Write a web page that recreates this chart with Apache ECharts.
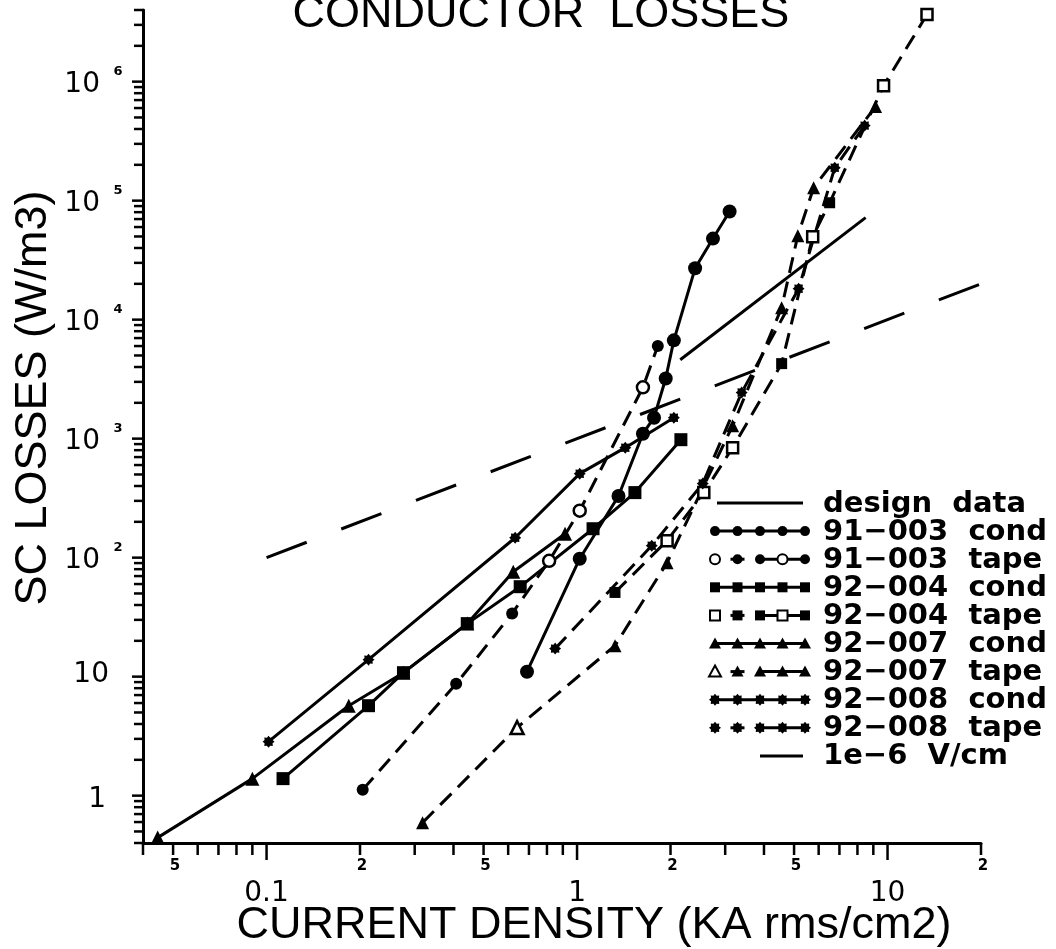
<!DOCTYPE html>
<html>
<head>
<meta charset="utf-8">
<script src="https://cdn.jsdelivr.net/npm/echarts@6/dist/echarts.min.js"></script>
<style>
  html, body { margin: 0; padding: 0; background: #fff; }
  #chart { width: 1056px; height: 949px; }
</style>
</head>
<body>
<div id="chart"></div>
<script>
// Axis ranges (log-log)
const X_MIN = 0.04, X_MAX = 20;
const Y_MIN = 0.4, Y_MAX = 4e6;

// Current density (kA rms/cm2) and loss density (W/m3) for each sample
const designX = [2.15, 8.5];
const designY = [4600, 72000];
const critX = [0.1, 21];
const critY = [100, 21000];

const c91003X = [0.69, 1.02, 1.36, 1.63, 1.77, 1.93, 2.05, 2.40, 2.74, 3.10];
const c91003Y = [11, 98, 330, 1100, 1500, 3200, 6700, 27000, 48000, 81000];
const t91003X = [0.204, 0.408, 0.618, 0.813, 1.02, 1.63, 1.82];
const t91003Y = [1.12, 8.7, 34, 94, 248, 2700, 6000];

const c92004X = [0.113, 0.213, 0.276, 0.443, 0.656, 1.126, 1.536, 2.16];
const c92004Y = [1.39, 5.7, 10.8, 27.9, 57, 175, 352, 980];
const t92004X = [1.325, 1.95, 2.56, 3.17, 4.56, 5.74, 6.51, 9.71, 13.4];
const t92004Y = [51, 139, 352, 840, 4270, 49800, 96000, 925000, 3660000];

const c92007X = [0.0446, 0.090, 0.184, 0.276, 0.443, 0.623, 0.915];
const c92007Y = [0.444, 1.39, 5.7, 10.8, 27.9, 76, 159];
const t92007X = [0.318, 0.641, 1.325, 1.95, 3.17, 4.56, 5.14, 5.78, 9.15];
const t92007Y = [0.593, 3.73, 18.2, 90.8, 1285, 12600, 50800, 128500, 617000];

const c92008X = [0.1015, 0.213, 0.632, 1.02, 1.43, 2.05];
const c92008Y = [2.84, 13.9, 147, 508, 840, 1500];
const t92008X = [0.85, 1.74, 2.54, 3.39, 5.17, 6.76, 8.44];
const t92008Y = [17.2, 126, 419, 2440, 18200, 189000, 427000];

// Tick labels
const tickMantissas = [1, 2, 3, 4, 5, 6, 7, 8, 9];
const xDecadeValues = [0.1, 1, 10];
const xDecadeLabels = ['0.1', '1', '10'];
const xMinorLabelValues = [0.05, 0.2, 0.5, 2, 5, 20];
const xMinorLabels = ['5', '2', '5', '2', '5', '2'];
const yDecadeValues = [1, 10, 100, 1000, 1e4, 1e5, 1e6];
const yDecadeLabels = ['1', '10', '10', '10', '10', '10', '10'];
const yDecadeExponents = ['', '', '2', '3', '4', '5', '6'];

const legendLabels = ['design  data', '91\u2212003  cond', '91\u2212003  tape', '92\u2212004  cond',
  '92\u2212004  tape', '92\u2212007  cond', '92\u2212007  tape', '92\u2212008  cond',
  '92\u2212008  tape', '1e\u22126  V/cm'];

// ---- helpers ----
function logTicks(min, max) {
  const out = [];
  for (let e = Math.floor(Math.log10(min)); e <= Math.ceil(Math.log10(max)); e++) {
    tickMantissas.forEach(function (m) {
      const v = Number((m * Math.pow(10, e)).toPrecision(6));
      if (v >= min * (1 - 1e-9) && v <= max * (1 + 1e-9)) out.push(v);
    });
  }
  return out;
}
function isDecade(v) {
  const l = Math.log10(v);
  return Math.abs(l - Math.round(l)) < 1e-6;
}
// spiky dot used as the 92-008 marker
function starPoints(cx, cy, r) {
  const pts = [];
  for (let k = 0; k < 16; k++) {
    const a = -Math.PI / 2 + k * Math.PI / 8;
    const rr = k % 2 === 0 ? r : r * 0.72;
    pts.push([cx + rr * Math.cos(a), cy + rr * Math.sin(a)]);
  }
  return pts;
}
const starPath = 'path://' + starPoints(10, 10, 10).map(function (p, i) {
  return (i === 0 ? 'M' : 'L') + p[0].toFixed(2) + ' ' + p[1].toFixed(2);
}).join(' ') + ' Z';

const SYMBOLS = { circle: 'circle', square: 'rect', triangle: 'triangle', star: starPath };
const TAPE_DASH = [16, 9];

// Series drawing definitions (style only)
const plotSeries = [
  { name: 'design data', xs: designX, ys: designY, dash: 'solid', marker: null },
  { name: '91-003 cond', xs: c91003X, ys: c91003Y, dash: 'solid', marker: 'circle', size: 14, open: [] },
  { name: '91-003 tape', xs: t91003X, ys: t91003Y, dash: TAPE_DASH, marker: 'circle', size: 12, open: [3, 4, 5] },
  { name: '92-004 cond', xs: c92004X, ys: c92004Y, dash: 'solid', marker: 'square', size: 13, open: [] },
  { name: '92-004 tape', xs: t92004X, ys: t92004Y, dash: TAPE_DASH, marker: 'square', size: 11, open: [1, 2, 3, 5, 7, 8] },
  { name: '92-007 cond', xs: c92007X, ys: c92007Y, dash: 'solid', marker: 'triangle', size: 14, open: [] },
  { name: '92-007 tape', xs: t92007X, ys: t92007Y, dash: TAPE_DASH, marker: 'triangle', size: 13, open: [1] },
  { name: '92-008 cond', xs: c92008X, ys: c92008Y, dash: 'solid', marker: 'star', size: 12, open: [] },
  { name: '92-008 tape', xs: t92008X, ys: t92008Y, dash: TAPE_DASH, marker: 'star', size: 12, open: [] },
  { name: '1e-6 V/cm', xs: critX, ys: critY, dash: [43, 37], marker: null }
];

const series = plotSeries.map(function (s) {
  const open = s.open || [];
  return {
    name: s.name,
    type: 'line',
    clip: false,
    silent: true,
    symbol: s.marker ? SYMBOLS[s.marker] : 'none',
    symbolSize: s.size || 0,
    showSymbol: !!s.marker,
    lineStyle: { color: '#000', width: 3, type: s.dash },
    itemStyle: { color: '#000' },
    z: 3,
    data: s.xs.map(function (x, i) {
      const item = { value: [x, s.ys[i]] };
      if (open.indexOf(i) >= 0) {
        item.itemStyle = { color: '#fff', borderColor: '#000', borderWidth: 2.5 };
      }
      return item;
    })
  };
});

const NUM_FONT = '"DejaVu Sans", sans-serif';

// Axis ticks drawn through the axis scales
series.push({
  type: 'custom', silent: true, clip: false, z: 5,
  data: logTicks(X_MIN, X_MAX).map(function (v) { return [v, Y_MIN]; }),
  renderItem: function (params, api) {
    const v = api.value(0);
    const p = api.coord([v, Y_MIN]);
    const len = isDecade(v) ? 17 : 12;
    return { type: 'line', shape: { x1: p[0], y1: p[1], x2: p[0], y2: p[1] + len },
      style: { stroke: '#000', lineWidth: 2.5 } };
  }
});
series.push({
  type: 'custom', silent: true, clip: false, z: 5,
  data: logTicks(Y_MIN, Y_MAX).map(function (v) { return [X_MIN, v]; }),
  renderItem: function (params, api) {
    const v = api.value(1);
    const p = api.coord([X_MIN, v]);
    const len = isDecade(v) ? 11 : 9;
    return { type: 'line', shape: { x1: p[0] - len, y1: p[1], x2: p[0], y2: p[1] },
      style: { stroke: '#000', lineWidth: 2.5 } };
  }
});
// small intermediate labels under the x axis
series.push({
  type: 'custom', silent: true, clip: false, z: 5,
  data: xMinorLabelValues.map(function (v) { return [v, Y_MIN]; }),
  renderItem: function (params, api) {
    const p = api.coord([api.value(0), Y_MIN]);
    return { type: 'text', x: p[0] + 2, y: p[1] + 23,
      style: { text: xMinorLabels[params.dataIndex], font: 'bold 15px ' + NUM_FONT, fill: '#000',
        textAlign: 'center', textVerticalAlign: 'middle', align: 'center', verticalAlign: 'middle' } };
  }
});
// decade labels under the x axis
series.push({
  type: 'custom', silent: true, clip: false, z: 5,
  data: xDecadeValues.map(function (v) { return [v, Y_MIN]; }),
  renderItem: function (params, api) {
    const p = api.coord([api.value(0), Y_MIN]);
    return { type: 'text', x: p[0], y: p[1] + 51,
      style: { text: xDecadeLabels[params.dataIndex], font: '28px ' + NUM_FONT, fill: '#000',
        textAlign: 'center', textVerticalAlign: 'middle', align: 'center', verticalAlign: 'middle' } };
  }
});
// decade labels on the y axis (power-of-ten form)
series.push({
  type: 'custom', silent: true, clip: false, z: 5,
  data: yDecadeValues.map(function (v) { return [X_MIN, v]; }),
  renderItem: function (params, api) {
    const i = params.dataIndex;
    const p = api.coord([X_MIN, api.value(1)]);
    const exp = yDecadeExponents[i];
    const base = { font: '28px ' + NUM_FONT, fill: '#000', textAlign: 'right', textVerticalAlign: 'middle',
      align: 'right', verticalAlign: 'middle' };
    if (exp) {
      return { type: 'group', children: [
        { type: 'text', x: p[0] - 43, y: p[1] + 3, style: Object.assign({ text: yDecadeLabels[i] }, base) },
        { type: 'text', x: p[0] - 25, y: p[1] - 10, style: { text: exp, font: 'bold 13px ' + NUM_FONT, fill: '#000',
          textAlign: 'center', textVerticalAlign: 'middle', align: 'center', verticalAlign: 'middle' } }
      ] };
    }
    const dy = yDecadeLabels[i] === '1' ? 4 : -2;
    const dx = yDecadeLabels[i] === '1' ? -37 : -34;
    return { type: 'text', x: p[0] + dx, y: p[1] + dy, style: Object.assign({ text: yDecadeLabels[i] }, base) };
  }
});

// ---- legend drawn as graphics ----
const LEG = { x0: 715, x1: 805, textX: 823, y0: 503, dy: 28.1 };
function markerGraphic(kind, cx, cy, size, open) {
  const style = open ? { fill: '#fff', stroke: '#000', lineWidth: 2 } : { fill: '#000' };
  const h = size / 2;
  if (kind === 'circle') return { type: 'circle', shape: { cx: cx, cy: cy, r: h }, style: style, z: 10 };
  if (kind === 'square') return { type: 'rect', shape: { x: cx - h, y: cy - h, width: size, height: size }, style: style, z: 10 };
  if (kind === 'triangle') return { type: 'polygon', shape: { points: [[cx, cy - h - 1], [cx + h + 1, cy + h], [cx - h - 1, cy + h]] }, style: style, z: 10 };
  return { type: 'polygon', shape: { points: starPoints(cx, cy, h + 1) }, style: style, z: 10 };
}
const legendChildren = [];
plotSeries.forEach(function (s, r) {
  const y = LEG.y0 + r * LEG.dy;
  const lineStyle = { stroke: '#000', lineWidth: 3 };
  if (!s.marker) {
    const xa = r === 0 ? LEG.x0 + 2 : 760;
    legendChildren.push({ type: 'line', shape: { x1: xa, y1: y, x2: LEG.x1 - 2, y2: y }, style: lineStyle, z: 10 });
  } else {
    const step = (LEG.x1 - LEG.x0) / 4;
    const xs = [0, 1, 2, 3, 4].map(function (k) { return LEG.x0 + k * step; });
    const tape = s.dash !== 'solid';
    if (tape) {
      legendChildren.push({ type: 'line', shape: { x1: xs[2], y1: y, x2: xs[4], y2: y }, style: lineStyle, z: 10 });
      legendChildren.push({ type: 'line', shape: { x1: xs[1] - 7, y1: y, x2: xs[1] + 7, y2: y }, style: lineStyle, z: 10 });
    } else {
      legendChildren.push({ type: 'line', shape: { x1: xs[0], y1: y, x2: xs[4], y2: y }, style: lineStyle, z: 10 });
    }
    const openIdx = tape && s.marker !== 'star' ? (s.marker === 'triangle' ? [0] : [0, 3]) : [];
    xs.forEach(function (x, k) {
      legendChildren.push(markerGraphic(s.marker, x, y, 10, openIdx.indexOf(k) >= 0));
    });
  }
  legendChildren.push({ type: 'text', x: LEG.textX, y: y + 1, z: 10,
    style: { text: legendLabels[r], font: 'bold 29px ' + NUM_FONT, fill: '#000',
      textAlign: 'left', textVerticalAlign: 'middle', align: 'left', verticalAlign: 'middle' } });
});

const TITLE_FONT = '"Liberation Sans", Arial, sans-serif';

const chart = echarts.init(document.getElementById('chart'), null, { renderer: 'canvas' });
chart.setOption({
  animation: false,
  backgroundColor: '#fff',
  grid: { left: 143, top: 10, width: 838, height: 833 },
  xAxis: {
    type: 'log', logBase: 10, min: X_MIN, max: X_MAX,
    axisLine: { show: true, lineStyle: { color: '#000', width: 3 } },
    axisTick: { show: false }, axisLabel: { show: false }, splitLine: { show: false }
  },
  yAxis: {
    type: 'log', logBase: 10, min: Y_MIN, max: Y_MAX,
    axisLine: { show: true, lineStyle: { color: '#000', width: 3 } },
    axisTick: { show: false }, axisLabel: { show: false }, splitLine: { show: false }
  },
  graphic: [
    { type: 'text', x: 541, y: 15, z: 10,
      style: { text: 'CONDUCTOR  LOSSES', font: '45px ' + TITLE_FONT, fill: '#000',
        textAlign: 'center', textVerticalAlign: 'middle', align: 'center', verticalAlign: 'middle' } },
    { type: 'text', x: 594, y: 926, z: 10,
      style: { text: 'CURRENT DENSITY (KA rms/cm2)', font: '45px ' + TITLE_FONT, fill: '#000',
        textAlign: 'center', textVerticalAlign: 'middle', align: 'center', verticalAlign: 'middle' } },
    { type: 'text', x: 34, y: 398, rotation: Math.PI / 2, z: 10,
      style: { text: 'SC LOSSES (W/m3)', font: '45px ' + TITLE_FONT, fill: '#000',
        textAlign: 'center', textVerticalAlign: 'middle', align: 'center', verticalAlign: 'middle' } },
    { type: 'group', children: legendChildren }
  ],
  series: series
});
</script>
</body>
</html>
